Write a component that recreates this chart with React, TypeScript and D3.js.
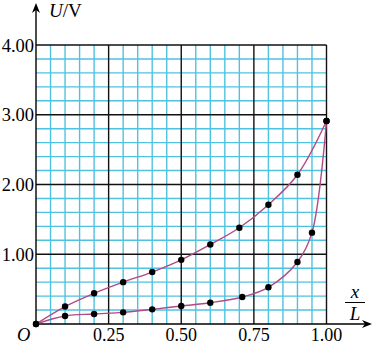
import React from "react";
import * as d3 from "d3";

const upperX = [0, 0.1, 0.2, 0.3, 0.4, 0.5, 0.6, 0.7, 0.8, 0.9, 1.0];
const upperU = [0, 0.25, 0.44, 0.6, 0.745, 0.92, 1.14, 1.38, 1.71, 2.14, 2.91];
const lowerX = [0, 0.1, 0.2, 0.3, 0.4, 0.5, 0.6, 0.71, 0.8, 0.9, 0.95, 1.0];
const lowerU = [0, 0.115, 0.143, 0.167, 0.21, 0.258, 0.305, 0.387, 0.526, 0.889, 1.31, 2.91];
const xTicks = [0.25, 0.5, 0.75, 1.0];
const xTickLabels = ["0.25", "0.50", "0.75", "1.00"];
const yTicks = [1, 2, 3, 4];
const yTickLabels = ["1.00", "2.00", "3.00", "4.00"];

const W = 374;
const H = 345;

export default function App() {
  const x = d3.scaleLinear().domain([0, 1]).range([36, 326.5]);
  const y = d3.scaleLinear().domain([0, 4]).range([324, 45]);
  const minorX = d3.range(1, 20).map((i) => i * 0.05).filter((v) => Math.abs((v / 0.25) - Math.round(v / 0.25)) > 1e-6);
  const minorY = d3.range(1, 20).map((i) => i * 0.2).filter((v) => Math.abs(v - Math.round(v)) > 1e-6);
  const line = d3
    .line<[number, number]>()
    .x((d) => x(d[0]))
    .y((d) => y(d[1]))
    .curve(d3.curveCatmullRom.alpha(0.5));
  const upper: [number, number][] = upperX.map((v, i) => [v, upperU[i]]);
  const lower: [number, number][] = lowerX.map((v, i) => [v, lowerU[i]]);
  const font = "'Liberation Serif', 'Times New Roman', serif";
  const cyan = "#4fc2df";
  const curveColor = "#b04a86";
  return (
    <svg width={W} height={H} style={{ position: "absolute", left: 0, top: 0, background: "#fff" }}>
      {minorX.map((v, i) => (
        <line key={"mx" + i} x1={x(v)} x2={x(v)} y1={y(4)} y2={y(0)} stroke={cyan} strokeWidth={1.4} />
      ))}
      {minorY.map((v, i) => (
        <line key={"my" + i} x1={x(0)} x2={x(1)} y1={y(v)} y2={y(v)} stroke={cyan} strokeWidth={1.4} />
      ))}
      {xTicks.map((v, i) => (
        <line key={"Mx" + i} x1={x(v)} x2={x(v)} y1={y(4)} y2={y(0)} stroke="#111" strokeWidth={1.4} />
      ))}
      {yTicks.map((v, i) => (
        <line key={"My" + i} x1={x(0)} x2={x(1)} y1={y(v)} y2={y(v)} stroke="#111" strokeWidth={1.4} />
      ))}
      {/* axes */}
      <line x1={x(0)} x2={x(0)} y1={y(0)} y2={8} stroke="#000" strokeWidth={1.4} />
      <path d={`M${x(0)},3 L${x(0) - 4},13 L${x(0)},10 L${x(0) + 4},13 Z`} fill="#000" />
      <line x1={x(0)} x2={367} y1={y(0)} y2={y(0)} stroke="#000" strokeWidth={1.4} />
      <path d={`M372,${y(0)} L362,${y(0) - 4} L365,${y(0)} L362,${y(0) + 4} Z`} fill="#000" />
      {/* curves */}
      <path d={line(upper) || ""} fill="none" stroke={curveColor} strokeWidth={1.4} />
      <path d={line(lower) || ""} fill="none" stroke={curveColor} strokeWidth={1.4} />
      {upper.map((d, i) => (
        <circle key={"u" + i} cx={x(d[0])} cy={y(d[1])} r={3.2} fill="#000" />
      ))}
      {lower.map((d, i) => (
        <circle key={"l" + i} cx={x(d[0])} cy={y(d[1])} r={3.2} fill="#000" />
      ))}
      {/* tick labels */}
      {xTicks.map((v, i) => (
        <text key={"xt" + i} x={x(v)} y={341} textAnchor="middle" fontFamily={font} fontSize={18} fill="#000">
          {xTickLabels[i]}
        </text>
      ))}
      {yTicks.map((v, i) => (
        <text key={"yt" + i} x={34} y={y(v) + 6.5} textAnchor="end" fontFamily={font} fontSize={18.5} fill="#000">
          {yTickLabels[i]}
        </text>
      ))}
      <text x={17} y={341} fontFamily={font} fontSize={18.5} fontStyle="italic" fill="#000">O</text>
      <text x={49} y={17} fontFamily={font} fontSize={19} fill="#000">
        <tspan fontStyle="italic">U</tspan>/V
      </text>
      <text x={355} y={298} textAnchor="middle" fontFamily={font} fontSize={19} fontStyle="italic" fill="#000">x</text>
      <line x1={345} x2={365} y1={302.5} y2={302.5} stroke="#000" strokeWidth={1} />
      <text x={355} y={320} textAnchor="middle" fontFamily={font} fontSize={19} fontStyle="italic" fill="#000">L</text>
    </svg>
  );
}
